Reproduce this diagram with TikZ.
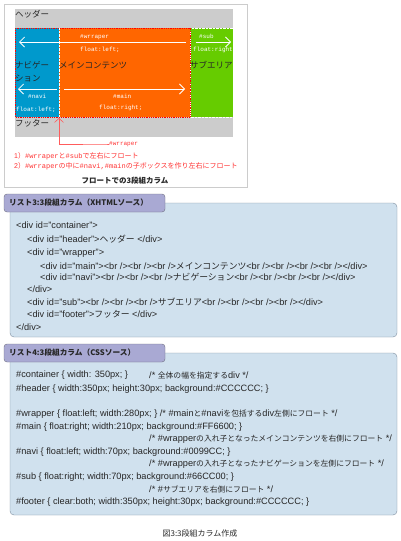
\documentclass[tikz,border=0pt]{standalone}
\usepackage{fontspec}
\usetikzlibrary{arrows.meta}
\setmainfont{Liberation Sans}
\setmonofont{Liberation Mono}
\newfontfamily\jp{Noto Sans CJK JP}
\newcommand{\jasize}{7}
\newcommand{\ja}[1]{{\jp\fontsize{\jasize}{\jasize}\selectfont #1}}

\definecolor{hdrgray}{HTML}{CCCCCC}
\definecolor{mainorange}{HTML}{FF6600}
\definecolor{naviblue}{HTML}{0099CC}
\definecolor{subgreen}{HTML}{66CC00}
\definecolor{notered}{HTML}{FF3333}
\definecolor{listfill}{HTML}{D0E1EE}
\definecolor{listline}{HTML}{7C8C9C}
\definecolor{tabfill}{HTML}{A9A9D3}
\definecolor{tabline}{HTML}{6E6E80}

\begin{document}
\begin{tikzpicture}[x=1pt,y=-1pt]
\tikzset{
  pixlabel/.style={font=\ttfamily\fontsize{6}{6}\selectfont,text=white,inner sep=0pt,anchor=west},
  jlabel/.style={font=\jp\fontsize{8.5}{9}\selectfont,text=black!85,inner sep=0pt,anchor=west},
  note/.style={font=\fontsize{7}{7}\selectfont\renewcommand{\jasize}{7},text=notered,inner sep=0pt,anchor=west},
  code/.style={font=\fontsize{9.2}{9.2}\selectfont\renewcommand{\jasize}{7.8},text=black!85,inner sep=0pt,anchor=west},
  html/.style={code,font=\fontsize{9.2}{9.2}\selectfont\renewcommand{\jasize}{8.8}},
  tabtitle/.style={font=\jp\bfseries\fontsize{7.7}{8}\selectfont,text=black!85,inner sep=0pt,anchor=west},
  flow/.style={white,line width=0.8pt,-{Straight Barb[length=5pt,width=10pt]}},
  panel/.style={draw=listline,fill=listfill,rounded corners=4pt},
  tab/.style={draw=tabline,fill=tabfill,rounded corners=3pt}
}
\useasboundingbox (0,0) rectangle (400,541);

% figure of the layout
\draw[draw=black!20,fill=white] (4,4) rectangle (247,187);
\fill[hdrgray] (15,9) rectangle (233,137);
\fill[naviblue] (15,28) rectangle (59,117);
\fill[mainorange] (59,28) rectangle (190,117);
\fill[subgreen] (190,28) rectangle (233,117);
\draw[white,densely dotted] (59,28) -- (59,117);
\draw[white,densely dotted] (190,28) rectangle (233,117);
\draw[red,densely dotted,line width=0.8pt] (15,28) rectangle (190,117);

\node[jlabel] (header) at (15,14) {ヘッダー};
\node[jlabel] (footer) at (15,123) {フッター};
\node[jlabel] (navi1) at (15,65) {ナビゲー};
\node[jlabel] (navi2) at (15,78) {ション};
\node[jlabel] (main) at (59,65) {メインコンテンツ};
\node[jlabel] (sub) at (190,65) {サブエリア};

\node[pixlabel] (wrapname) at (80,37) {\#wrraper};
\node[pixlabel] (wrapfloat) at (80,50) {float:left;};
\node[pixlabel] (subname) at (199,36) {\#sub};
\node[pixlabel] (subfloat) at (193,50) {float:right};
\node[pixlabel] (naviname) at (28,96) {\#navi};
\node[pixlabel] (navifloat) at (16,110) {float:left;};
\node[pixlabel] (mainname) at (113,96) {\#main};
\node[pixlabel] (mainfloat) at (99,108) {float:right;};

% arrows
\coordinate (wrapR) at (186,42);
\coordinate (wrapL) at (19,42);
\coordinate (subL) at (196,42);
\coordinate (subR) at (231,42);
\coordinate (naviR) at (57,89);
\coordinate (naviL) at (18,89);
\coordinate (mainL) at (64,89);
\coordinate (mainR) at (185,89);
\draw[flow] (wrapR) -- (wrapL);
\draw[flow] (subL) -- (subR);
\draw[flow] (naviR) -- (naviL);
\draw[flow] (mainL) -- (mainR);

\node[note,font=\ttfamily\fontsize{6}{6}\selectfont] (wrapnote) at (109,144) {\#wrraper};
\coordinate (wraptip) at (59,118);
\draw[notered!80,line width=0.6pt,-{Straight Barb[length=4pt,width=9pt]}] (wrapnote.west) -- ++(-3,0) -| (wraptip);

\node[note] (step1) at (14,156) {1\ja{）}{\ttfamily\#wrraper}\ja{と}{\ttfamily\#sub}\ja{で左右にフロート}};
\node[note] (step2) at (14,166) {2\ja{）}{\ttfamily\#wrraper}\ja{の中に}{\ttfamily\#navi,\#main}\ja{の子ボックスを作り左右にフロート}};
\node[font=\jp\bfseries\fontsize{7.5}{8}\selectfont,text=black!85,inner sep=0pt] (figtitle) at (125,181) {フロートでの3段組カラム};

% list 3
\draw[panel] (10,203) rectangle (397,337);
\draw[tab] (4,194) rectangle (165,212);
\node[tabtitle] (tab3) at (9,203) {リスト3:3段組カラム（XHTMLソース）};
\node[html] (x1) at (16,225) {<div id="container">};
\node[html] (x2) at (27,239) {<div id="header">\ja{ヘッダー} </div>};
\node[html] (x3) at (27,253) {<div id="wrapper">};
\node[html] (x4) at (40,266) {<div id="main"><br /><br /><br />\ja{メインコンテンツ}<br /><br /><br /><br /></div>};
\node[html] (x5) at (40,277) {<div id="navi"><br /><br /><br />\ja{ナビゲーション}<br /><br /><br /><br /></div>};
\node[html] (x6) at (27,289) {</div>};
\node[html] (x7) at (27,302) {<div id="sub"><br /><br /><br />\ja{サブエリア}<br /><br /><br /><br /></div>};
\node[html] (x8) at (27,314) {<div id="footer">\ja{フッター} </div>};
\node[html] (x9) at (16,327) {</div>};

% list 4
\draw[panel] (10,353) rectangle (397,515);
\draw[tab] (4,344) rectangle (165,362);
\node[tabtitle] (tab4) at (9,353) {リスト4:3段組カラム（CSSソース）};
\node[code] (c1) at (16,375) {\#container \{ width: 350px; \}};
\node[code] (c1note) at (149,375) {/* \ja{全体の幅を指定する}div */};
\node[code] (c2) at (16,389) {\#header \{ width:350px; height:30px; background:\#CCCCCC; \}};
\node[code] (c3) at (16,414) {\#wrapper \{ float:left; width:280px; \} /* \#main\ja{と}\#navi\ja{を包括する}div\ja{左側にフロート} */};
\node[code] (c4) at (16,427) {\#main \{ float:right; width:210px; background:\#FF6600; \}};
\node[code] (c4note) at (149,439) {/* \#wrapper\ja{の入れ子となったメインコンテンツを右側にフロート} */};
\node[code] (c5) at (16,452) {\#navi \{ float:left; width:70px; background:\#0099CC; \}};
\node[code] (c5note) at (149,464) {/* \#wrapper\ja{の入れ子となったナビゲーションを左側にフロート} */};
\node[code] (c6) at (16,477) {\#sub \{ float:right; width:70px; background:\#66CC00; \}};
\node[code] (c6note) at (149,489) {/* \#\ja{サブエリアを右側にフロート} */};
\node[code] (c7) at (16,502) {\#footer \{ clear:both; width:350px; height:30px; background:\#CCCCCC; \}};

\node[font=\jp\fontsize{8}{8}\selectfont,text=black!85,inner sep=0pt] (caption) at (200,533) {図3:3段組カラム作成};
\end{tikzpicture}
\end{document}
